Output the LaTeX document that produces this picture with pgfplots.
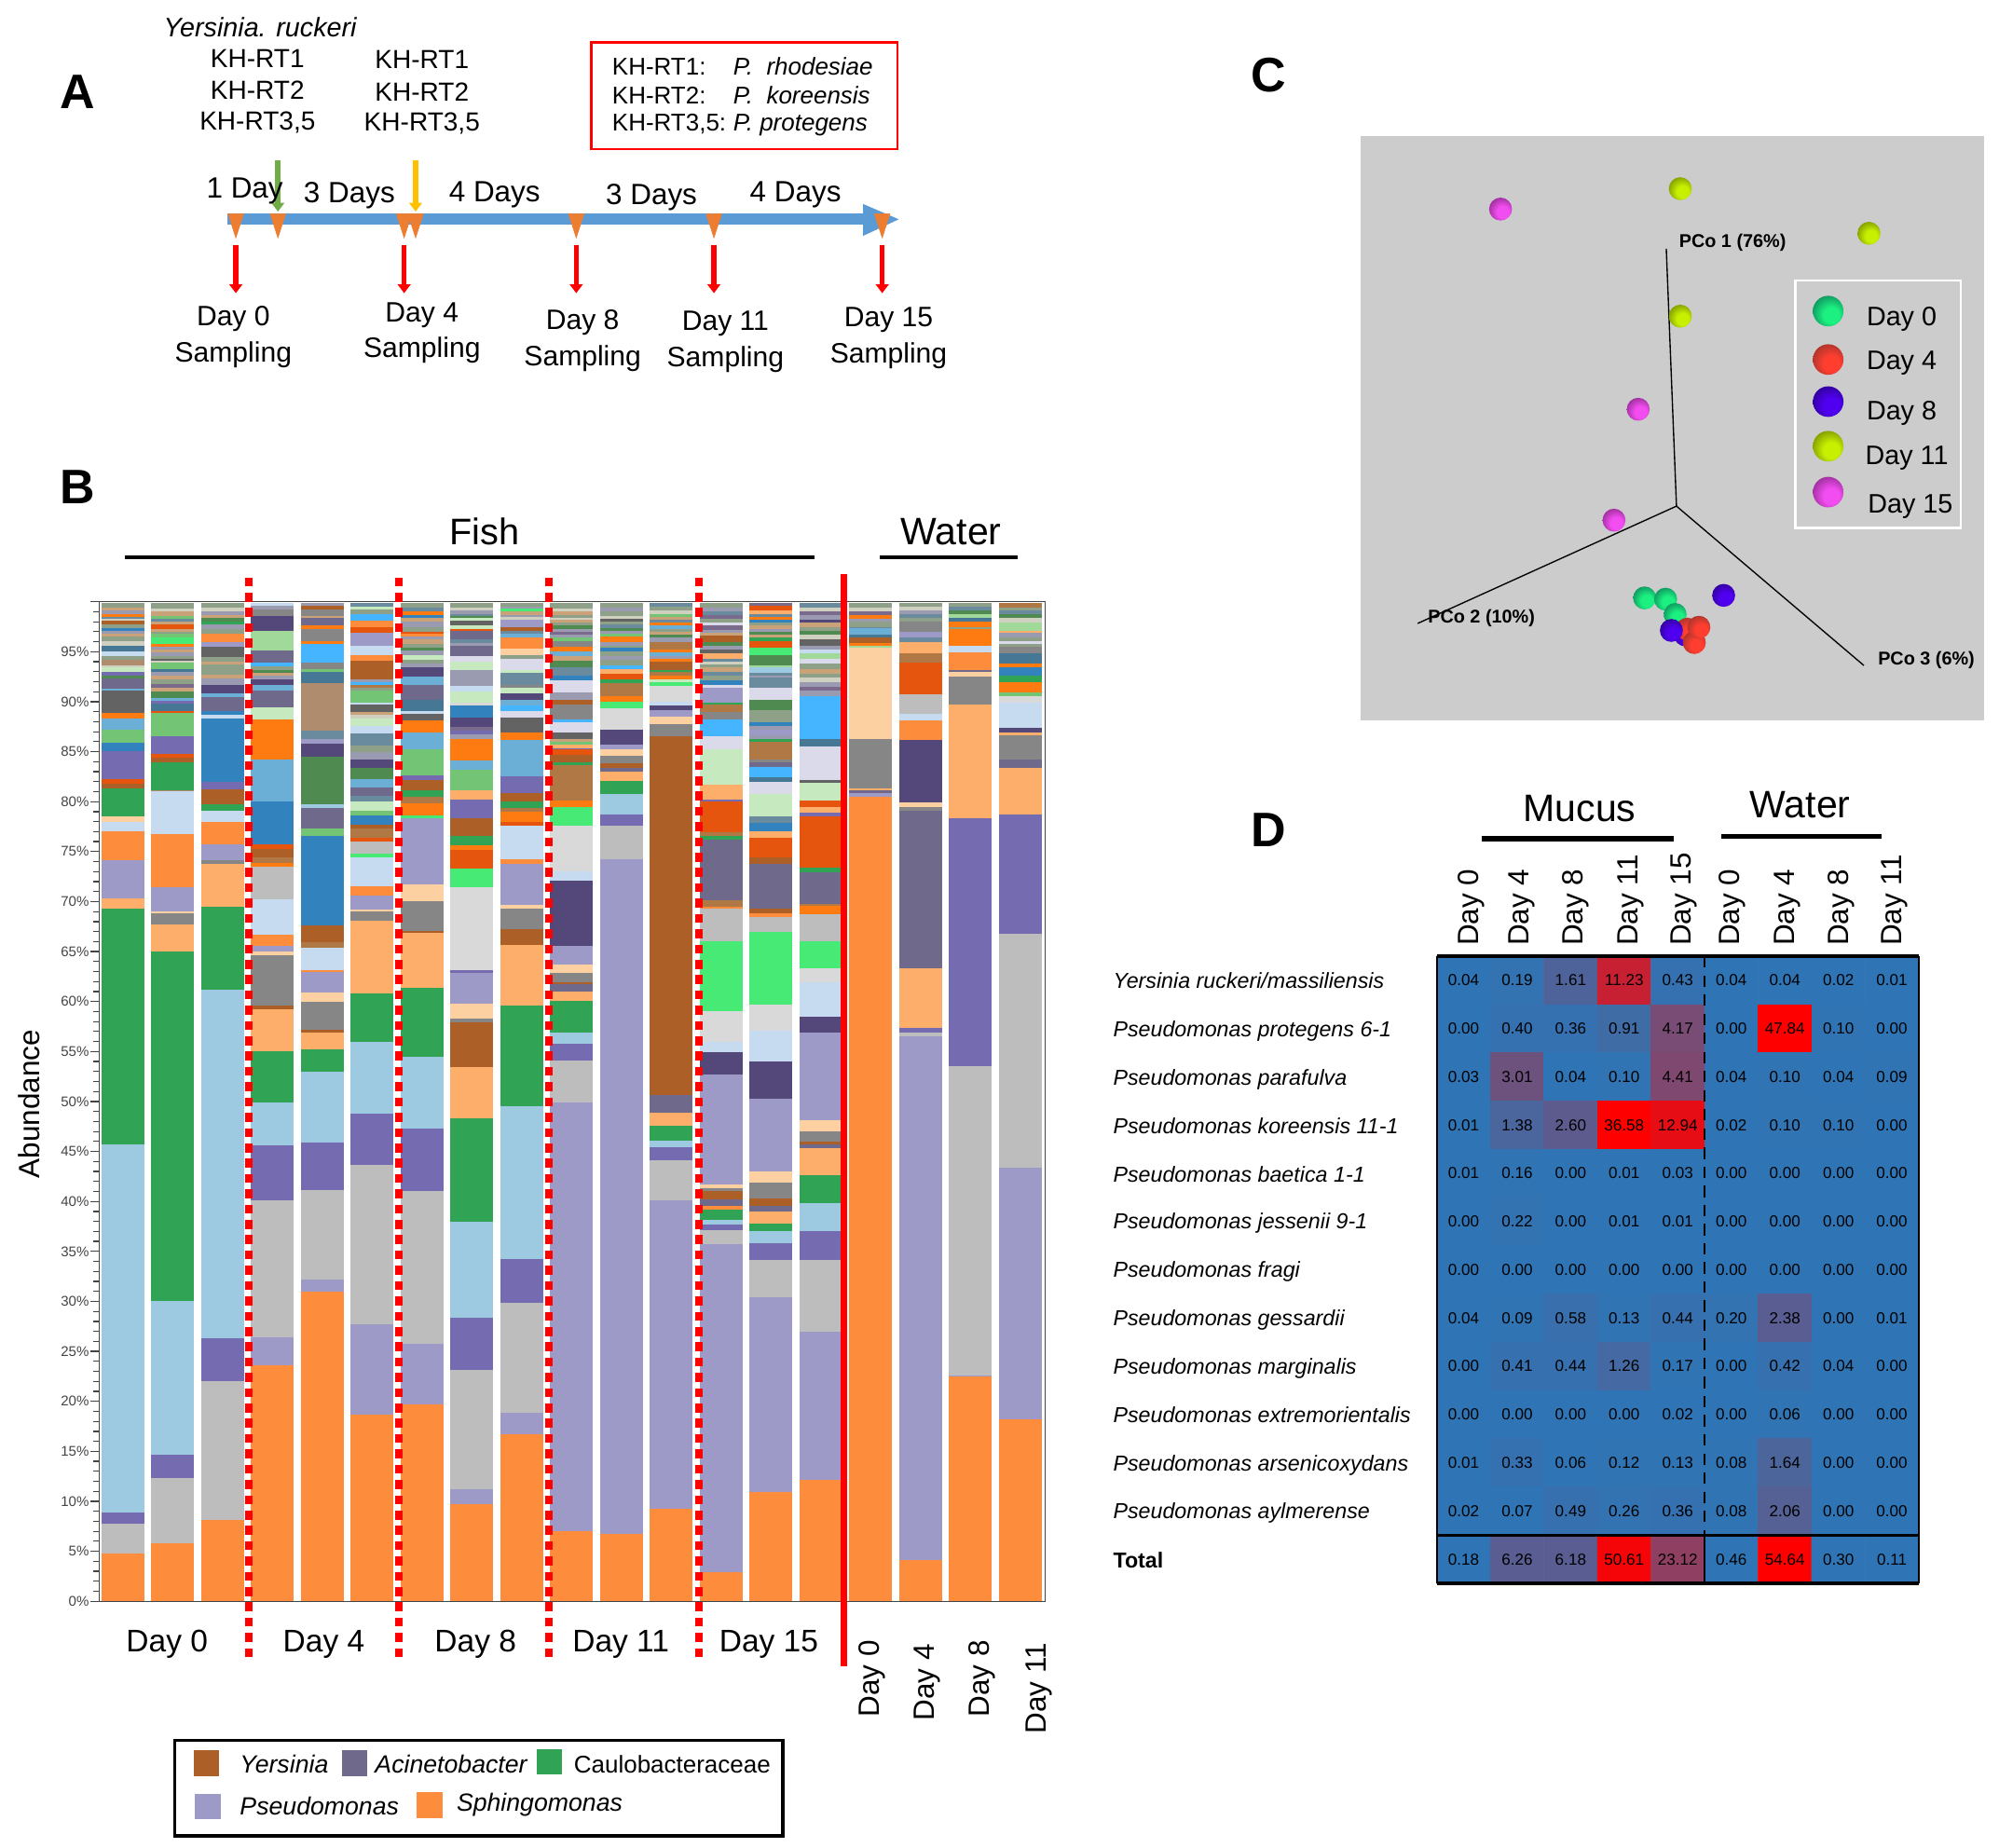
\documentclass[border=0pt]{standalone}
\usepackage{fontspec}
\usepackage{pgfplots}
\usepackage{pgfplotstable}
\pgfplotsset{compat=1.18}
\usetikzlibrary{plotmarks,arrows.meta}
\setmainfont{Liberation Sans}
\newcommand{\fs}[1]{\fontsize{#1}{#1}\selectfont}

% bar colours
\definecolor{or}{HTML}{FD8D3C}\definecolor{pu}{HTML}{9E9AC8}\definecolor{gy}{HTML}{BDBDBD}
\definecolor{vi}{HTML}{756BB1}\definecolor{lb}{HTML}{9ECAE1}\definecolor{gn}{HTML}{31A354}
\definecolor{lo}{HTML}{FDAE6B}\definecolor{lc}{HTML}{C6DBEF}\definecolor{lg}{HTML}{D9D9D9}
\definecolor{dg}{HTML}{636363}\definecolor{mg}{HTML}{868686}\definecolor{dp}{HTML}{54487A}
\definecolor{ac}{HTML}{6F6A8C}\definecolor{br}{HTML}{AD5F28}\definecolor{lv}{HTML}{DADAEB}
\definecolor{pe}{HTML}{FDD0A2}\definecolor{bo}{HTML}{E6550D}\definecolor{ot}{HTML}{FD7B10}
\definecolor{mb}{HTML}{6BAED6}\definecolor{db}{HTML}{3182BD}\definecolor{lt}{HTML}{74C476}
\definecolor{pg}{HTML}{A1D99B}\definecolor{vg}{HTML}{C7E9C0}\definecolor{sk}{HTML}{45B5FF}
\definecolor{bg}{HTML}{48EA76}\definecolor{tn}{HTML}{AF8C6E}\definecolor{bl}{HTML}{B07845}
\definecolor{dn}{HTML}{4F8A50}\definecolor{st}{HTML}{467895}
\definecolor{s1}{HTML}{8FA088}\definecolor{s2}{HTML}{9A9AB0}\definecolor{s3}{HTML}{C9A27A}
\definecolor{s4}{HTML}{6A8A9E}\definecolor{s5}{HTML}{D0D0C0}\definecolor{s6}{HTML}{7A6A8C}
\definecolor{axk}{HTML}{444444}

% spheres for panel C: bright spot low on the right, dark at the upper left
\newcommand{\declsph}[3]{%
  \definecolor{sphd#1}{HTML}{#2}\definecolor{sphb#1}{HTML}{#3}%
  \pgfdeclareradialshading{sh#1}{\pgfpoint{7bp}{-9bp}}{color(0bp)=(sphb#1); color(13bp)=(sphb#1); color(30bp)=(sphd#1); color(50bp)=(sphd#1)}%
  \pgfdeclareplotmark{sph#1}{\pgfpathcircle{\pgfpointorigin}{\pgfplotmarksize}\pgfshadepath{sh#1}{0}\pgfusepath{discard}}}
\declsph{g}{0F9A62}{1CF080}
\declsph{r}{B0352C}{FF3E30}
\declsph{p}{3300A0}{5000F0}
\declsph{y}{86A000}{C6F000}
\declsph{m}{A0309F}{F24DF0}

% one bar: colour/top of segment, listed from the top down
\newcommand{\stk}[2]{\foreach \c/\v in {#2}{\edef\tmp{\noexpand\addplot[fill=\c,draw=none] coordinates {(#1,\v)};}\tmp}}

\pgfplotstableread{
x y t v
0 0 0 0.04
1 0 0.02 0.19
2 0 0.15 1.61
3 0 0.72 11.23
4 0 0.03 0.43
5 0 0 0.04
6 0 0 0.04
7 0 0 0.02
8 0 0 0.01
0 1 0 0.00
1 1 0.03 0.40
2 1 0.03 0.36
3 1 0.08 0.91
4 1 0.35 4.17
5 1 0 0.00
6 1 1 47.84
7 1 0.01 0.10
8 1 0 0.00
0 2 0 0.03
1 2 0.30 3.01
2 2 0 0.04
3 2 0.01 0.10
4 2 0.38 4.41
5 2 0 0.04
6 2 0.01 0.10
7 2 0 0.04
8 2 0.01 0.09
0 3 0 0.01
1 3 0.13 1.38
2 3 0.22 2.60
3 3 1 36.58
4 3 0.88 12.94
5 3 0 0.02
6 3 0.01 0.10
7 3 0.01 0.10
8 3 0 0.00
0 4 0 0.01
1 4 0.01 0.16
2 4 0 0.00
3 4 0 0.01
4 4 0 0.03
5 4 0 0.00
6 4 0 0.00
7 4 0 0.00
8 4 0 0.00
0 5 0 0.00
1 5 0.02 0.22
2 5 0 0.00
3 5 0 0.01
4 5 0 0.01
5 5 0 0.00
6 5 0 0.00
7 5 0 0.00
8 5 0 0.00
0 6 0 0.00
1 6 0 0.00
2 6 0 0.00
3 6 0 0.00
4 6 0 0.00
5 6 0 0.00
6 6 0 0.00
7 6 0 0.00
8 6 0 0.00
0 7 0 0.04
1 7 0.01 0.09
2 7 0.05 0.58
3 7 0.01 0.13
4 7 0.04 0.44
5 7 0.02 0.20
6 7 0.20 2.38
7 7 0 0.00
8 7 0 0.01
0 8 0 0.00
1 8 0.04 0.41
2 8 0.04 0.44
3 8 0.10 1.26
4 8 0.01 0.17
5 8 0 0.00
6 8 0.04 0.42
7 8 0 0.04
8 8 0 0.00
0 9 0 0.00
1 9 0 0.00
2 9 0 0.00
3 9 0 0.00
4 9 0 0.02
5 9 0 0.00
6 9 0.005 0.06
7 9 0 0.00
8 9 0 0.00
0 10 0 0.01
1 10 0.03 0.33
2 10 0 0.06
3 10 0.01 0.12
4 10 0.01 0.13
5 10 0.01 0.08
6 10 0.14 1.64
7 10 0 0.00
8 10 0 0.00
0 11 0 0.02
1 11 0 0.07
2 11 0.04 0.49
3 11 0.02 0.26
4 11 0.03 0.36
5 11 0.01 0.08
6 11 0.18 2.06
7 11 0 0.00
8 11 0 0.00
0 12 0 0.18
1 12 0.20 6.26
2 12 0.20 6.18
3 12 0.95 50.61
4 12 0.46 23.12
5 12 0 0.46
6 12 1 54.64
7 12 0 0.30
8 12 0 0.11
}\heattable

\begin{document}
\begin{tikzpicture}[x=1pt,y=-1pt]
\path[use as bounding box] (0,0) rectangle (1568,1449);

% ---- A: timeline
\begin{axis}[at={(0pt,0pt)},anchor=north west,scale only axis,width=760pt,height=340pt,
  xmin=0,xmax=760,ymin=0,ymax=340,y dir=reverse,hide axis,clip=false]
\addplot[draw={rgb,255:red,91;green,155;blue,213},line width=9pt] coordinates {(178,172) (680,172)};
\addplot[fill={rgb,255:red,91;green,155;blue,213},draw=none] coordinates {(677,160) (705,172) (677,185)} -- cycle;
\addplot[only marks,mark=triangle*,mark size=7pt,color={rgb,255:red,237;green,125;blue,49},
  mark options={yscale=-1.8}] coordinates {(185,174) (218,174) (317,174) (326,174) (452,174) (560,174) (692,174)};
\end{axis}
\foreach \x/\c in {218/{rgb,255:red,112;green,173;blue,71},326/{rgb,255:red,255;green,192;blue,0}}
  \draw[line width=4pt,color/.expanded=\c,-{Triangle[length=7pt,width=10pt]}] (\x,126) -- (\x,166);
\foreach \x in {185,317,452,560,692}
  \draw[line width=4pt,red,-{Triangle[length=7pt,width=10pt]}] (\x,192) -- (\x,230);
\node[font=\fs{38}\bfseries] at (61,72) {A};
\node[font=\fs{21}\itshape] at (204,21) {Yersinia. ruckeri};
\foreach \x/\d in {202/0,331/1}{
  \node[font=\fs{20.5}] at (\x,46+\d) {KH-RT1};
  \node[font=\fs{20.5}] at (\x,71+\d) {KH-RT2};
  \node[font=\fs{20.5}] at (\x,96+\d) {KH-RT3,5};
}
\draw[red,line width=2pt] (464,33) rectangle (704,117);
\node[font=\fs{19},anchor=west,inner sep=0pt] at (480,52) {KH-RT1:};
\node[font=\fs{19},anchor=west,inner sep=0pt] at (480,75) {KH-RT2:};
\node[font=\fs{19},anchor=west,inner sep=0pt] at (480,97) {KH-RT3,5:};
\node[font=\fs{19}\itshape,anchor=west,inner sep=0pt] at (575,52) {P.\ \ rhodesiae};
\node[font=\fs{19}\itshape,anchor=west,inner sep=0pt] at (575,75) {P.\ \ koreensis};
\node[font=\fs{19}\itshape,anchor=west,inner sep=0pt] at (575,98.5) {P. protegens};
\foreach \x/\y/\t in {192/150/1 Day,274/153/3 Days,388/153/4 Days,511/155/3 Days,624/153/4 Days}
  \node[font=\fs{23}] at (\x,\y) {\t};
\foreach \x/\y/\t in {183/250/Day 0,331/247/Day 4,457/253/Day 8,569/254/Day 11,697/251/Day 15}{
  \node[font=\fs{22}] at (\x,\y) {\t};
  \node[font=\fs{22}] at (\x,\y+28) {Sampling};
}

% ---- B: stacked bars
\begin{axis}[at={(78pt,-1256pt)},anchor=south west,scale only axis,width=742pt,height=784pt,
  ybar,bar width=0.86,bar shift=0pt,clip=false,
  xmin=-0.473,xmax=18.504,ymin=0,ymax=100,xtick=\empty,
  ytick={0,5,...,100},minor y tick num=4,ytick pos=left,
  yticklabels={0\%,5\%,10\%,15\%,20\%,25\%,30\%,35\%,40\%,45\%,50\%,55\%,60\%,65\%,70\%,75\%,80\%,85\%,90\%,95\%,{}},
  tick align=outside,tick style={axk,line width=0.9pt},
  major tick length=7pt,minor tick length=5pt,
  y tick label style={font=\fs{11},color=axk,inner sep=1pt},
  axis line style={axk,line width=1pt}]
\stk{0}{s1/99.9,s3/99.4,s2/99.1,ot/98.8,s4/98.5,s5/98.3,br/98.1,s1/97.7,db/97.4,s2/97.1,s3/96.8,s1/96.5,s5/96.1,st/95.6,lc/95,s1/94.6,tn/94.2,s5/93.6,vg/93.4,vi/93,dn/92.6,ac/92.3,mb/91.3,dg/91.1,ot/88.9,mb/88.3,lt/87.2,db/85.9,vi/85.1,bo/82.3,br/81.8,gn/81.3,pe/78.5,lc/78,or/77,pu/74.1,lo/70.3,gn/69.3,lb/45.7,vi/8.85,gy/7.8,or/4.8}
\stk{1}{s1/99.9,s5/99.3,s3/99,lt/98.6,s4/98.3,s3/98,bo/97.7,s3/97.3,s1/97,lt/96.8,bg/96.4,ot/95.8,s2/95.5,s3/95.2,s2/94.9,s1/94.6,dg/94.3,s5/94.1,lt/93.9,st/93.3,s2/93,s3/92.6,s1/92.2,s6/91.8,s3/91.4,dn/91,mb/90.4,vi/90.1,st/89.8,bo/89.1,lt/88.9,vi/86.5,bo/84.8,br/84.4,gn/83.9,tn/81.1,lc/81,or/76.8,pu/71.4,pe/69,mg/68.8,lo/67.7,gn/65,lb/30,vi/14.7,gy/12.3,or/5.8}
\stk{2}{s1/99.9,s5/99.4,s2/99,s3/98.7,dn/98.4,gn/98,s2/97.7,s1/97.3,or/96.8,pu/96,dg/95.5,s1/94.5,s3/94,s1/93.7,s3/92.7,s2/92.3,dp/91.7,mb/90.8,ac/90.5,db/89.1,lc/88.7,db/88.3,vi/82,br/81.2,gn/79.7,lc/79.1,or/78,pu/75.7,mg/74.1,lo/73.8,gn/69.5,lb/61.2,vi/26.3,gy/22,or/8.1}
\stk{3}{lc/99.9,s2/99.6,mg/99.2,dp/98.6,pg/97.1,ac/95.1,sk/93.9,s1/93.5,dn/93.2,s3/92.9,s2/92.6,dp/92.2,mb/91.7,ac/91.1,vg/89.4,ot/88.2,mb/84.2,db/80,bo/75.7,br/75.3,bl/74.4,ot/73.9,gy/73.5,lc/70.2,or/66.7,pu/65.6,pe/65,mg/64.6,br/59.6,lo/59.2,gn/55,lb/49.9,vi/45.6,gy/40.15,pu/26.4,or/23.6}
\stk{4}{s2/99.9,br/99.6,mg/99.2,s3/98.6,ac/98.4,ot/97.6,mg/97.3,ot/96.1,sk/95.8,mg/93.9,lt/93.3,st/93,tn/91.9,s4/87.1,pu/86.3,dp/85.8,dn/84.5,lb/79.7,ac/79.4,lt/77.3,db/76.6,br/67.6,bl/65.9,lc/65.4,or/63.1,pu/63,pe/60.9,mg/60,br/57.2,lo/56.9,gn/55.2,lb/53,vi/45.85,gy/41.1,pu/32.2,or/31}
\stk{5}{s4/99.9,vg/99.5,s1/99.2,sk/98.8,or/98.1,bo/97.5,pu/96.9,lc/95.6,or/94.7,br/94.1,s2/92.2,sk/92,bl/91.7,s1/91.4,lt/91.1,lc/89.9,dg/89.7,s3/89,s5/88.7,vg/88.3,lc/87.6,s4/86.8,s1/85.6,s2/85,dp/84.2,dn/83.4,mb/82.3,ac/81.4,s4/80.6,vg/80,lt/79.1,db/78.6,br/77.7,bl/77.3,bo/76.4,gy/76,bg/74.8,lc/74.4,or/71.5,pu/70.6,pe/69.2,mg/69,lo/68.1,gn/60.8,lb/55.95,vi/48.8,gy/43.65,pu/27.7,or/18.7}
\stk{6}{s1/99.9,s4/99.4,ot/99,db/98.7,s3/98.4,s2/98,s1/97.5,bo/97,or/96.8,s2/96.5,s3/96.2,s1/95.8,dn/95.4,s2/95.1,vg/94.7,s1/94.2,s2/93.8,dp/93.4,mb/92.5,ac/91.7,st/90.2,lc/89.1,dg/88.8,ot/88.1,mb/86.9,lt/85.2,vi/82.6,br/82.2,gn/81.1,bl/80.5,ot/79.8,bg/78.6,pu/78.3,pe/71.7,mg/70,br/67.1,lo/66.9,gn/61.4,lb/54.5,vi/47.3,gy/41,pu/25.75,or/19.7}
\stk{7}{s1/99.9,s5/99.4,s2/99.1,s4/98.8,dn/98.6,vg/98.4,dg/98.1,vg/97.6,bo/97.3,ac/97.1,s4/96.2,s2/95.9,ac/95.6,lv/94.6,vg/94,s2/93.2,lc/91.6,vg/91,lg/89.9,db/89.6,dp/88.4,s6/87.5,vi/87.1,s2/86.7,ot/86.3,mb/84.1,lt/83.2,lo/81.1,vi/80.2,br/78.3,gn/76.6,ot/75.6,bo/75.2,bg/73.3,lg/71.4,vi/63.1,pu/62.9,pe/59.8,mg/58.3,br/57.9,lo/53.4,gn/48.3,lb/38,vi/28.4,gy/23.1,pu/11.25,or/9.75}
\stk{8}{s1/99.9,s2/99.5,bg/99.3,s3/99,s2/98.7,s5/98.5,pu/98.2,br/97.5,s4/97.1,mb/96.8,or/96.4,pe/95.3,s1/94.7,lv/94.3,vg/93.2,s4/92.9,mg/91.7,vg/91.4,dp/90.8,mb/90.2,sk/89.6,lv/89.1,dg/88.4,ot/86.9,mb/86.2,vi/82.5,br/80.9,gn/80,bl/79.4,ot/79,bo/78,lc/77.6,or/74.2,pu/73.8,pe/69.7,mg/69.3,br/67.2,lo/65.7,gn/59.6,lb/49.5,vi/34.25,gy/29.9,pu/18.9,or/16.7}
\stk{9}{s1/99.9,s5/99.3,s3/99,s1/98.7,s5/98.4,s3/98.2,s1/97.9,dn/97.6,s2/97.3,s6/97,s2/96.7,lt/96.4,mg/96.1,ot/95.5,mb/95,s3/94.6,dn/94.1,s4/93.4,db/92.6,lv/92.1,s2/90.9,br/90.2,mg/89.7,sk/88.2,lv/87.9,dg/86.9,s3/86.3,lt/86,lo/85.7,vi/85.3,bo/85.2,br/84.7,gn/83.9,bl/83.7,ot/80.1,bg/79.5,lg/77.6,lc/73,dp/72.1,pu/65.6,pe/63.7,mg/62.9,br/61.9,ac/61.7,lo/61,gn/60.1,lb/56.9,vi/55.8,gy/54.1,pu/49.9,or/7}
\stk{10}{s1/99.9,s2/99.4,s1/99,s5/98.6,dg/98.3,s1/98,s4/97.7,dn/97.4,s2/97.1,lt/96.8,ot/96.5,s2/96,s1/95.6,db/95.4,s1/95,s2/94.6,s1/94.2,sk/93.6,lo/93.3,bo/92.8,gn/92.2,bl/91.9,ot/90.6,bg/90,lg/89.3,dp/87.2,pu/85.7,pe/85.2,mg/84.6,br/83.8,ac/83.4,lo/83,gn/82.1,lb/80.8,vi/78.7,gy/77.6,pu/74.2,or/6.7}
\stk{11}{s4/99.9,s1/99.5,s5/99.1,lt/98.8,s3/98.5,s4/98.2,ot/97.9,mb/97.6,s1/97.3,s3/97,dn/96.7,s2/96.4,bl/96,ot/95.2,mb/94.9,s2/94.6,ot/94.3,br/94,gn/93.2,bl/93,ot/92.6,vg/92.2,bg/92,lg/91.6,lc/90,dp/89.6,pu/89.2,pe/88.5,mg/87.8,br/86.5,ac/50.65,lo/48.9,gn/47.6,lb/46.1,vi/45.45,gy/44.15,pu/40.15,or/9.25}
\stk{12}{s1/99.9,s2/99.4,s4/99,s6/98.7,s1/98.3,lv/97.9,s6/97.6,s2/97.2,s3/96.9,br/96.6,dn/96,s2/95.6,dg/95.2,lo/94.8,s4/94.3,s5/94,s1/93.7,s3/93.4,s4/93,s1/92.6,db/92.1,lv/91.7,pu/91.4,gn/89.9,bl/89.7,mg/89,sk/88.2,lv/86.5,vg/85.2,lo/81.7,vi/80.2,bo/80,bl/76.9,gn/76.6,ac/76.2,bl/70.1,or/69.5,gy/69.3,bg/66,lg/59,lc/55.95,dp/54.9,pu/52.7,pe/41.7,mg/41.3,br/41,ac/40.2,or/39.6,gn/39.2,lb/38.2,vi/37.7,gy/37.1,pu/35.7,or/2.9}
\stk{13}{s6/99.9,bo/99.6,lo/99.1,s4/98.8,ot/98.5,db/98.2,s1/97.9,s3/97.6,s2/97.3,dn/97,s3/96.7,gn/96.4,bo/96.1,bg/95.4,dn/94.7,pg/93.6,lb/93.4,s4/92.9,s2/92.6,s4/92.4,lv/91.4,dn/90.2,s1/89.2,db/87.9,s2/87.6,pu/87.2,s2/86.6,gn/86.3,bl/86,mg/84.2,ac/83.9,sk/83.5,st/82.4,lv/82,vg/80.8,s4/78.5,db/77.9,lo/77,bo/76.4,br/74.4,ac/73.8,br/69.3,or/68.8,gy/68.5,bg/67,lg/59.7,lc/57.1,dp/54,pu/50.25,pe/43,mg/41.9,br/40.3,ac/39.55,lo/39,gn/37.8,lb/37,vi/35.8,gy/34.15,pu/30.4,or/10.9}
\stk{14}{s4/99.9,s5/99.4,s6/99,s2/98.7,dp/98.2,s3/97.9,s1/97.5,dn/97.1,s5/96.7,dg/96.2,s2/95.6,lc/95.2,pg/94.8,lv/94.3,s1/93.8,s3/93.3,s1/92.8,s5/92.4,s2/92,s6/91.5,s2/91.1,sk/90.6,st/86.3,lv/85.5,dg/82.2,vg/81.9,bo/80.1,lo/79.5,vi/78.9,bo/78.5,gn/73.4,ac/72.9,bl/69.8,ot/69.6,gy/68.7,bg/66,lg/63.3,lc/61.9,dp/58.5,pu/56.9,pe/48.1,mg/47,br/46,ac/45.7,lo/45.3,gn/42.6,lb/39.8,vi/37,gy/34.15,pu/27,or/12.1}
\stk{15}{s1/99.9,s5/99.4,s6/99,ot/98.7,s2/98.3,s1/98,s4/97.5,mb/97.4,st/96.7,br/96.4,ot/95.9,pg/95.6,pe/95.4,mg/86.3,lo/81.3,ac/81.1,pu/80.9,or/80.5}
\stk{16}{s1/99.9,s5/99.5,s2/99.1,s4/98.8,s1/98.4,mg/98,pu/97,s4/96.4,lo/96,bl/94.8,bo/93.9,gy/90.7,lc/88.8,or/88.1,dp/86.2,pe/79.9,mg/79.5,ac/79.1,lo/63.3,vi/57.4,gy/56.9,pu/56.5,or/4.1}
\stk{17}{s1/99.9,s4/99.5,dn/99.1,pg/98.8,st/98.4,ot/98,s1/97.5,ot/97.3,lc/95.6,or/94.9,ac/93.2,pe/93,mg/92.5,lo/89.7,vi/78.3,gy/53.5,pu/22.6,or/22.5}
\stk{18}{bl/99.9,s1/99.4,s4/99.1,dn/98.8,s5/98.4,pg/97.9,lo/97.1,s2/96.9,s1/96.4,lv/96.1,s1/95.8,mg/95.5,st/94.8,ot/93.8,db/93.4,gn/92.6,ot/92,lt/90.9,lg/90.6,lc/89.9,dp/87.4,lo/86.9,mg/86.6,ac/84.2,lo/83.4,vi/78.7,gy/66.8,pu/43.4,or/18.2}
\foreach \x in {2.52,5.54,8.55,11.55}{
  \edef\tmp{\noexpand\addplot[red,line width=6pt,dash pattern=on 7pt off 5pt,sharp plot] coordinates {(\x,-5.6) (\x,102.8)};}\tmp}
\addplot[red,line width=5.5pt,sharp plot] coordinates {(14.46,-6.5) (14.46,102.8)};
\end{axis}
\node[font=\fs{38}\bfseries] at (61,382) {B};
\node[font=\fs{29}] at (380,417) {Fish};
\node[font=\fs{30}] at (746,417) {Water};
\draw[line width=2.5pt] (98,437) -- (639,437);
\draw[line width=2.5pt] (690,437) -- (798,437);
\node[font=\fs{23},rotate=90] at (23,866) {Abundance};
\foreach \x/\t in {131/Day 0,254/Day 4,373/Day 8,487/Day 11,603/Day 15}
  \node[font=\fs{24.5}] at (\x,1290) {\t};
\foreach \x/\y/\t in {684/1347/Day 0,727/1350/Day 4,770/1347/Day 8,815/1360/Day 11}
  \node[font=\fs{23},rotate=90,anchor=west,inner sep=0pt] at (\x,\y) {\t};
\draw[line width=2.5pt] (137,1365) rectangle (614,1440);
\fill[br] (152,1373) rectangle +(20,20);
\fill[ac] (268,1373) rectangle +(20,20);
\fill[gn] (421,1372) rectangle +(20,20);
\fill[pu] (153,1407) rectangle +(20,20);
\fill[or] (327,1406) rectangle +(20,20);
\node[font=\fs{19.5}\itshape,anchor=west,inner sep=0pt] at (188,1384) {Yersinia};
\node[font=\fs{19.5}\itshape,anchor=west,inner sep=0pt] at (294,1384) {Acinetobacter};
\node[font=\fs{19},anchor=west,inner sep=0pt] at (450,1384) {Caulobacteraceae};
\node[font=\fs{19.5}\itshape,anchor=west,inner sep=0pt] at (188,1417) {Pseudomonas};
\node[font=\fs{19.5}\itshape,anchor=west,inner sep=0pt] at (358,1416) {Sphingomonas};

% ---- C: PCoA
\begin{axis}[at={(1067pt,-565pt)},anchor=south west,scale only axis,width=489pt,height=458pt,
  xmin=1067,xmax=1556,ymin=107,ymax=565,y dir=reverse,ticks=none,clip=false,
  axis line style={draw=none},axis background/.style={fill={rgb,255:red,204;green,204;blue,204}}]
\addplot[black,line width=1pt] coordinates {(1307,195) (1315,397)};
\addplot[black,line width=1pt] coordinates {(1112,489) (1315,397)};
\addplot[black,line width=1pt] coordinates {(1462,522) (1315,397)};
\addplot[only marks,mark=sphm,mark size=9pt] coordinates {(1177,164) (1285,321) (1266,408)};
\addplot[only marks,mark=sphy,mark size=9pt] coordinates {(1318,148) (1466,183) (1318,248)};
\addplot[only marks,mark=sphg,mark size=9pt] coordinates {(1290,469) (1306.5,470) (1314,482)};
\addplot[only marks,mark=sphp,mark size=9pt] coordinates {(1322,498) (1352,467)};
\addplot[only marks,mark=sphr,mark size=9pt] coordinates {(1323.5,493.5) (1329,504) (1332.6,492)};
\addplot[only marks,mark=sphp,mark size=9pt] coordinates {(1311,494.5)};
\addplot[only marks,mark=sphg,mark size=12pt] coordinates {(1434,244)};
\addplot[only marks,mark=sphr,mark size=12pt] coordinates {(1434,282)};
\addplot[only marks,mark=sphp,mark size=12pt] coordinates {(1434,315)};
\addplot[only marks,mark=sphy,mark size=12pt] coordinates {(1434,350)};
\addplot[only marks,mark=sphm,mark size=12pt] coordinates {(1434,386)};
\end{axis}
\node[font=\fs{38}\bfseries] at (995,59) {C};
\node[font=\fs{14.5}\bfseries,inner sep=0pt] at (1359,190) {PCo 1 (76\%)};
\node[font=\fs{14.5}\bfseries,inner sep=0pt] at (1162,485) {PCo 2 (10\%)};
\node[font=\fs{14.5}\bfseries,inner sep=0pt] at (1511,518) {PCo 3 (6\%)};
\draw[white,line width=2pt] (1408,220) rectangle (1538,414);
\foreach \x/\y/\t in {1464/250/Day 0,1464/285/Day 4,1464/324/Day 8,1463/359/Day 11,1465/397/Day 15}
  \node[font=\fs{21},anchor=west,inner sep=0pt] at (\x,\y) {\t};

% ---- D: heat map
\begin{axis}[at={(1127pt,-1242pt)},anchor=south west,scale only axis,width=378pt,height=492pt,
  xmin=-0.5,xmax=8.5,ymin=-0.5,ymax=12.5,y dir=reverse,ticks=none,clip=false,
  axis line style={draw=none},
  colormap={rb}{rgb255=(47,117,181) rgb255=(255,0,0)},point meta min=0,point meta max=1]
\addplot[matrix plot*,mesh/cols=9,point meta=\thisrow{t}] table[x=x,y=y] {\heattable};
\addplot[draw=none,mark=none,point meta=explicit symbolic,nodes near coords,
  every node near coord/.style={font=\fs{12.5},anchor=center,inner sep=0pt,black}]
  table[x=x,y=y,meta=v] {\heattable};
\addplot[black,line width=2pt,dash pattern=on 9pt off 6pt] coordinates {(4.5,-0.5) (4.5,11.5)};
\addplot[black,line width=2pt] coordinates {(4.5,11.5) (4.5,12.5)};
\addplot[black,line width=2.5pt] coordinates {(-0.5,11.5) (8.5,11.5)};
\addplot[black,line width=2.5pt] coordinates {(-0.5,-0.5) (8.5,-0.5)};
\addplot[black,line width=2.5pt] coordinates {(-0.5,12.5) (8.5,12.5)};
\addplot[black,line width=1.5pt] coordinates {(-0.5,-0.5) (-0.5,12.5)};
\addplot[black,line width=1.5pt] coordinates {(8.5,-0.5) (8.5,12.5)};
\end{axis}
\node[font=\fs{38}\bfseries] at (995,651) {D};
\node[font=\fs{30}] at (1239,634) {Mucus};
\node[font=\fs{30}] at (1412,631) {Water};
\draw[line width=4pt] (1162,658) -- (1313,658);
\draw[line width=4pt] (1350,656) -- (1476,656);
\foreach \x/\t in {1154/Day 0,1194/Day 4,1236/Day 8,1279/Day 11,1321/Day 15,1359/Day 0,1402/Day 4,1444/Day 8,1486/Day 11}
  \node[font=\fs{23},rotate=90,anchor=west,inner sep=0pt] at (\x,742) {\t};
\foreach \y/\t in {771/Yersinia ruckeri\slash massiliensis,809/Pseudomonas protegens 6-1,847/Pseudomonas parafulva,885/Pseudomonas koreensis 11-1,923/Pseudomonas baetica 1-1,960/Pseudomonas jessenii 9-1,998/Pseudomonas fragi,1036/Pseudomonas gessardii,1074/Pseudomonas marginalis,1112/Pseudomonas extremorientalis,1150/Pseudomonas arsenicoxydans,1187/Pseudomonas aylmerense}
  \node[font=\fs{17}\itshape,anchor=west,inner sep=0pt,text height=12pt,text depth=4pt] at (873,\y) {\t};
\node[font=\fs{17}\bfseries,anchor=west,inner sep=0pt,text height=12pt,text depth=4pt] at (873,1226) {Total};
\end{tikzpicture}
\end{document}
